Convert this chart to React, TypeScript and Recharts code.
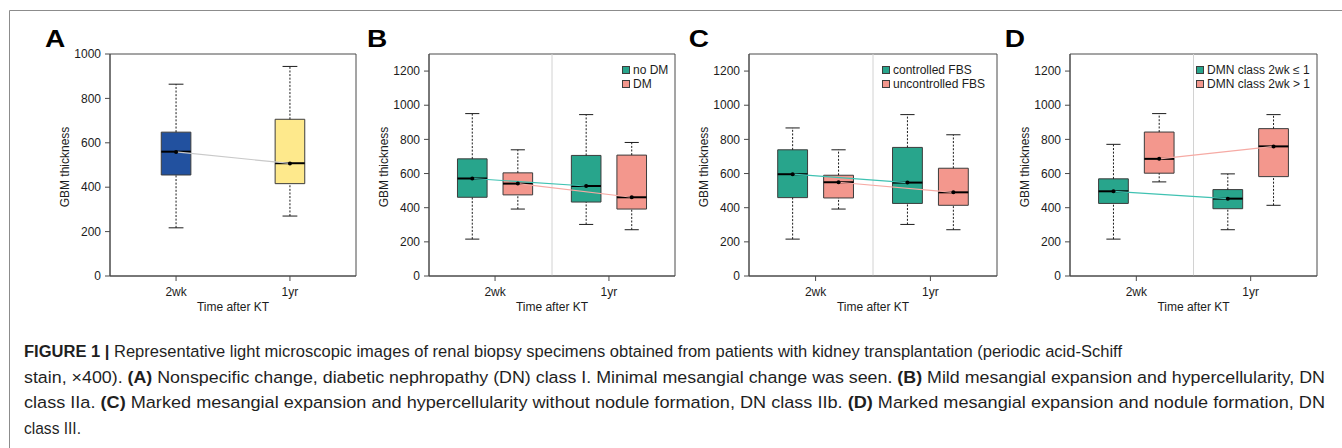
import React from 'react';
import {
  ComposedChart,
  XAxis,
  YAxis,
  ReferenceArea,
  ReferenceLine,
  Line,
  Legend,
} from 'recharts';

// ---------------------------------------------------------------------------
// Data: GBM thickness summaries, [min, Q1, median, Q3, max] per time point
// ---------------------------------------------------------------------------
const TIMEPOINTS = ['2wk', '1yr'];
const Y_TICKS_ALL = [0, 200, 400, 600, 800, 1000];
const Y_TICKS_GROUPS = [0, 200, 400, 600, 800, 1000, 1200];

// A: all patients
const allBox = [
  [217, 455, 560, 648, 864],
  [270, 416, 508, 706, 944],
];
const allMean = [559, 507];

// B: diabetes mellitus
const noDmBox = [
  [216, 461, 571, 686, 951],
  [302, 433, 527, 706, 945],
];
const noDmMean = [571, 527];
const dmBox = [
  [392, 475, 541, 604, 739],
  [271, 392, 461, 708, 782],
];
const dmMean = [541, 461];

// C: fasting blood sugar control
const ctrlBox = [
  [216, 459, 596, 739, 867],
  [302, 425, 547, 753, 945],
];
const ctrlMean = [596, 547];
const unctrlBox = [
  [392, 457, 549, 590, 739],
  [271, 414, 490, 631, 827],
];
const unctrlMean = [549, 490];

// D: DMN class at 2 weeks
const lowClassBox = [
  [216, 425, 496, 569, 771],
  [271, 394, 453, 506, 598],
];
const lowClassMean = [496, 453];
const highClassBox = [
  [551, 602, 686, 843, 951],
  [414, 582, 759, 863, 945],
];
const highClassMean = [686, 759];

const LEGEND_B = ['no DM', 'DM'];
const LEGEND_C = ['controlled FBS', 'uncontrolled FBS'];
const LEGEND_D = ['DMN class 2wk \u2264 1', 'DMN class 2wk > 1'];

const CAPTION: { text: string; bold?: boolean }[][] = [
  [
    { text: 'FIGURE 1 |', bold: true },
    {
      text: ' Representative light microscopic images of renal biopsy specimens obtained from patients with kidney transplantation (periodic acid-Schiff',
    },
  ],
  [
    { text: 'stain, \u00d7400). ' },
    { text: '(A)', bold: true },
    {
      text: ' Nonspecific change, diabetic nephropathy (DN) class I. Minimal mesangial change was seen. ',
    },
    { text: '(B)', bold: true },
    { text: ' Mild mesangial expansion and hypercellularity, DN' },
  ],
  [
    { text: 'class IIa. ' },
    { text: '(C)', bold: true },
    {
      text: ' Marked mesangial expansion and hypercellularity without nodule formation, DN class IIb. ',
    },
    { text: '(D)', bold: true },
    { text: ' Marked mesangial expansion and nodule formation, DN' },
  ],
  [{ text: 'class III.' }],
];

// ---------------------------------------------------------------------------
// Styling and layout
// ---------------------------------------------------------------------------
const FONT = '"Liberation Sans", Arial, Helvetica, sans-serif';
const INK = '#1c1c1c';
const AXIS = '#4a4a4a';
const BOX_EDGE = '#3c3c3c';
const BLUE = '#22519f';
const YELLOW = '#fee98c';
const TEAL = '#28a58c';
const SALMON = '#f3978d';
const TEAL_LINE = '#3fc2b2';
const SALMON_LINE = '#f6aaa4';
const GREY_LINE = '#c9c9c9';
const DIVIDER = '#d2d2d2';

const CHART_TOP = 20;
const CHART_H = 310;
const PLOT_TOP = 54;
const PLOT_BOTTOM = 276;
const Y_AXIS_W = 90;
const X_AXIS_H = 40;
const RIGHT_PAD = 10;

type Series = {
  name: string;
  boxes: number[][];
  means: number[];
  xs: number[];
  fills: string[];
  line: string;
};

type PanelProps = {
  plotLeft: number;
  plotRight: number;
  yMax: number;
  yTicks: number[];
  xDomain: [number, number];
  xTicks: number[];
  series: Series[];
  boxHalf: number;
  capHalf: number;
  divider?: number;
  legendLeft?: number;
};

// grouped panels: two boxes per time point, side by side
const GROUP_CENTERS = [1.5, 4];
const GROUP_DOMAIN: [number, number] = [0.05, 5.45];
const groupXs = (side: number) => GROUP_CENTERS.map((c) => c + side * 0.5);

function makePair(
  names: string[],
  boxesA: number[][],
  meansA: number[],
  boxesB: number[][],
  meansB: number[]
): Series[] {
  return [
    { name: names[0], boxes: boxesA, means: meansA, xs: groupXs(-1), fills: [TEAL, TEAL], line: TEAL_LINE },
    { name: names[1], boxes: boxesB, means: meansB, xs: groupXs(1), fills: [SALMON, SALMON], line: SALMON_LINE },
  ];
}

function boxMarks(s: Series, si: number, half: number, cap: number) {
  return s.boxes.flatMap((b, i) => {
    const x = s.xs[i];
    const [lo, q1, med, q3, hi] = b;
    const k = `${si}-${i}`;
    return [
      <ReferenceLine key={`wu${k}`} segment={[{ x, y: q3 }, { x, y: hi }]} stroke={INK} strokeDasharray="2 1.6" strokeWidth={1} />,
      <ReferenceLine key={`wl${k}`} segment={[{ x, y: lo }, { x, y: q1 }]} stroke={INK} strokeDasharray="2 1.6" strokeWidth={1} />,
      <ReferenceLine key={`cu${k}`} segment={[{ x: x - cap, y: hi }, { x: x + cap, y: hi }]} stroke={INK} strokeWidth={1} />,
      <ReferenceLine key={`cl${k}`} segment={[{ x: x - cap, y: lo }, { x: x + cap, y: lo }]} stroke={INK} strokeWidth={1} />,
      <ReferenceArea key={`bx${k}`} x1={x - half} x2={x + half} y1={q1} y2={q3} fill={s.fills[i]} fillOpacity={1} stroke={BOX_EDGE} strokeWidth={1} />,
      <ReferenceLine key={`md${k}`} segment={[{ x: x - half, y: med }, { x: x + half, y: med }]} stroke="#000" strokeWidth={2} />,
    ];
  });
}

function LegendBlock({ series }: { series: Series[] }) {
  return (
    <div style={{ fontFamily: FONT, fontSize: 12, color: INK, lineHeight: '14px' }}>
      {series.map((s) => (
        <div key={s.name} style={{ display: 'flex', alignItems: 'center', whiteSpace: 'nowrap' }}>
          <span
            style={{
              display: 'inline-block',
              width: 8,
              height: 8,
              boxSizing: 'border-box',
              background: s.fills[0],
              border: `1px solid ${BOX_EDGE}`,
              marginRight: 3,
            }}
          />
          <span>{s.name}</span>
        </div>
      ))}
    </div>
  );
}

function Panel(p: PanelProps) {
  const left = p.plotLeft - Y_AXIS_W;
  const width = p.plotRight - left + RIGHT_PAD;
  const marginBottom = CHART_TOP + CHART_H - PLOT_BOTTOM - X_AXIS_H;
  const marks = p.series.flatMap((s, si) => boxMarks(s, si, p.boxHalf, p.capHalf));

  return (
    <div style={{ position: 'absolute', left, top: CHART_TOP, fontFamily: FONT }}>
      <ComposedChart
        width={width}
        height={CHART_H}
        margin={{ top: PLOT_TOP - CHART_TOP, right: RIGHT_PAD, bottom: marginBottom, left: 0 }}
      >
        <XAxis
          type="number"
          dataKey="x"
          domain={p.xDomain}
          ticks={p.xTicks}
          interval={0}
          allowDataOverflow
          tickFormatter={(v: number) => TIMEPOINTS[p.xTicks.indexOf(v)] ?? ''}
          height={X_AXIS_H}
          tickSize={5}
          tickMargin={6}
          stroke={AXIS}
          tick={{ fill: INK, fontSize: 12 }}
          label={{ value: 'Time after KT', position: 'insideBottom', offset: 5.5, fill: INK, fontSize: 12 }}
        />
        <YAxis
          type="number"
          dataKey="y"
          domain={[0, p.yMax]}
          ticks={p.yTicks}
          interval={0}
          allowDataOverflow
          width={Y_AXIS_W}
          tickSize={5}
          tickMargin={4}
          stroke={AXIS}
          tick={{ fill: INK, fontSize: 12 }}
          label={{
            value: 'GBM thickness',
            angle: -90,
            position: 'insideLeft',
            offset: 45,
            dy: 2,
            fill: INK,
            fontSize: 12,
            style: { textAnchor: 'middle' },
          }}
        />
        <ReferenceArea
          x1={p.xDomain[0]}
          x2={p.xDomain[1]}
          y1={0}
          y2={p.yMax}
          fill="none"
          stroke={AXIS}
          strokeWidth={1}
          ifOverflow="visible"
        />
        {p.divider !== undefined && (
          <ReferenceLine x={p.divider} stroke={DIVIDER} strokeWidth={1} />
        )}
        {marks}
        {p.series.map((s) => (
          <Line
            key={`mean-${s.name}`}
            name={s.name}
            data={s.xs.map((x, i) => ({ x, y: s.means[i] }))}
            dataKey="y"
            type="linear"
            stroke={s.line}
            strokeWidth={1.2}
            dot={{ r: 2, fill: '#000', stroke: '#000', strokeWidth: 0 }}
            activeDot={false}
            isAnimationActive={false}
          />
        ))}
        {p.legendLeft !== undefined && (
          <Legend
            layout="vertical"
            align="center"
            verticalAlign="middle"
            wrapperStyle={{ left: p.legendLeft - left, top: 62.5 - CHART_TOP, width: 'auto', height: 'auto' }}
            content={() => <LegendBlock series={p.series} />}
          />
        )}
      </ComposedChart>
    </div>
  );
}

const PANEL_LETTERS = [
  { t: 'A', x: 45 },
  { t: 'B', x: 367 },
  { t: 'C', x: 688.8 },
  { t: 'D', x: 1004.8 },
];
const CAPTION_BASELINES = [357, 382.7, 408.4, 434];
const CAPTION_WIDTHS = [1098, 1301, 1301, 57];

export default function App() {
  const seriesA: Series[] = [
    { name: 'all', boxes: allBox, means: allMean, xs: [1, 2], fills: [BLUE, YELLOW], line: GREY_LINE },
  ];
  const seriesB = makePair(LEGEND_B, noDmBox, noDmMean, dmBox, dmMean);
  const seriesC = makePair(LEGEND_C, ctrlBox, ctrlMean, unctrlBox, unctrlMean);
  const seriesD = makePair(LEGEND_D, lowClassBox, lowClassMean, highClassBox, highClassMean);

  return (
    <div
      style={{
        position: 'absolute',
        left: 0,
        top: 0,
        width: 1342,
        height: 448,
        background: '#fff',
        overflow: 'hidden',
        fontFamily: FONT,
      }}
    >
      <svg width={1342} height={448} style={{ position: 'absolute', left: 0, top: 0 }}>
        <path d="M9.5 448 V10.5 H1342" fill="none" stroke="#8c8c8c" strokeWidth={1} />
        {PANEL_LETTERS.map((l) => (
          <text
            key={l.t}
            x={0}
            y={0}
            transform={`translate(${l.x} 47) scale(1.22 1)`}
            fontSize={23}
            fontWeight="bold"
            fill="#000"
            fontFamily={FONT}
          >
            {l.t}
          </text>
        ))}
        {CAPTION.map((line, i) => (
          <text
            key={i}
            x={24}
            y={CAPTION_BASELINES[i]}
            fontSize={17.2}
            fill="#1f1f1f"
            fontFamily={FONT}
            textLength={CAPTION_WIDTHS[i]}
            lengthAdjust="spacingAndGlyphs"
            style={{ whiteSpace: 'pre' }}
          >
            {line.map((seg, j) => (
              <tspan key={j} fontWeight={seg.bold ? 'bold' : 'normal'}>
                {seg.text}
              </tspan>
            ))}
          </text>
        ))}
      </svg>

      <Panel
        plotLeft={110}
        plotRight={356}
        yMax={1000}
        yTicks={Y_TICKS_ALL}
        xDomain={[0.42, 2.58]}
        xTicks={[1, 2]}
        series={seriesA}
        boxHalf={0.13}
        capHalf={0.065}
      />
      <Panel
        plotLeft={429}
        plotRight={675}
        yMax={1300}
        yTicks={Y_TICKS_GROUPS}
        xDomain={GROUP_DOMAIN}
        xTicks={GROUP_CENTERS}
        series={seriesB}
        boxHalf={0.325}
        capHalf={0.155}
        divider={2.75}
        legendLeft={622}
      />
      <Panel
        plotLeft={749}
        plotRight={997}
        yMax={1300}
        yTicks={Y_TICKS_GROUPS}
        xDomain={GROUP_DOMAIN}
        xTicks={GROUP_CENTERS}
        series={seriesC}
        boxHalf={0.325}
        capHalf={0.155}
        divider={2.75}
        legendLeft={882}
      />
      <Panel
        plotLeft={1070}
        plotRight={1317}
        yMax={1300}
        yTicks={Y_TICKS_GROUPS}
        xDomain={GROUP_DOMAIN}
        xTicks={GROUP_CENTERS}
        series={seriesD}
        boxHalf={0.325}
        capHalf={0.155}
        divider={2.75}
        legendLeft={1196}
      />
    </div>
  );
}
